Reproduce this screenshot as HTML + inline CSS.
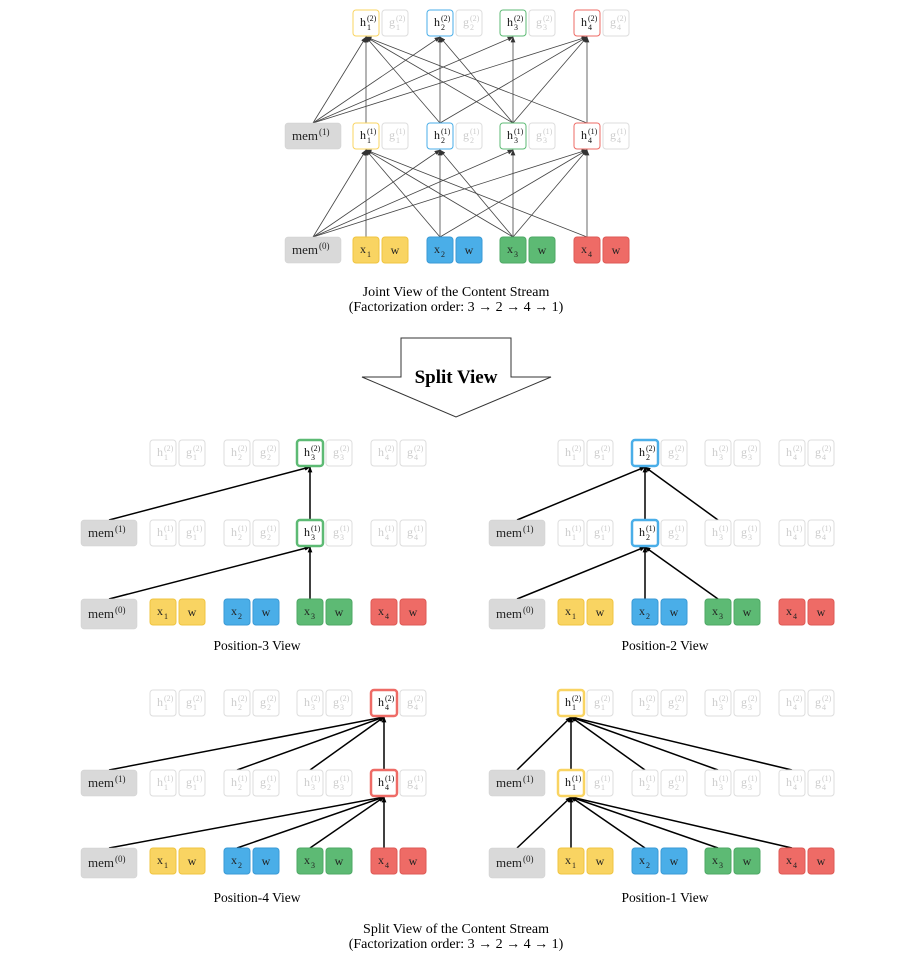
<!DOCTYPE html>
<html><head><meta charset="utf-8"><style>
html,body{margin:0;padding:0;background:#fff;}
svg{display:block;font-family:"Liberation Serif",serif;}
</style></head><body>
<svg id="s" width="900" height="960" viewBox="0 0 900 960" xmlns="http://www.w3.org/2000/svg">
<defs>
<marker id="a1" viewBox="0 0 10 10" refX="9" refY="5" markerWidth="6" markerHeight="6" orient="auto" markerUnits="userSpaceOnUse"><path d="M0,1 L10,5 L0,9 z" fill="#333"/></marker>
<marker id="a2" viewBox="0 0 10 10" refX="9" refY="5" markerWidth="6" markerHeight="6" orient="auto" markerUnits="userSpaceOnUse"><path d="M0,1 L10,5 L0,9 z" fill="#000"/></marker>
</defs>
<g id="g"></g>
<text x="456" y="296" font-size="14" text-anchor="middle">Joint View of the Content Stream</text>
<text x="456" y="311" font-size="14" text-anchor="middle">(Factorization order: 3 → 2 → 4 → 1)</text>
<path d="M401,338 L511,338 L511,377 L551,377 L456,417 L362,377 L401,377 Z" fill="#fff" stroke="#333" stroke-width="1"/>
<text x="456" y="383" font-size="19" font-weight="bold" text-anchor="middle">Split View</text>
<text x="257" y="650" font-size="13.5" text-anchor="middle">Position-3 View</text>
<text x="665" y="650" font-size="13.5" text-anchor="middle">Position-2 View</text>
<text x="257" y="902" font-size="13.5" text-anchor="middle">Position-4 View</text>
<text x="665" y="902" font-size="13.5" text-anchor="middle">Position-1 View</text>
<text x="456" y="933" font-size="14" text-anchor="middle">Split View of the Content Stream</text>
<text x="456" y="948" font-size="14" text-anchor="middle">(Factorization order: 3 → 2 → 4 → 1)</text>
</svg>
<script>
var G=document.getElementById('g'),out='';
var COL=['#f9d462','#4aaee8','#5dba74','#ee6b66'];
var DK=['#f0c440','#3a9ad6','#4ea865','#de5a55'];
var ORDER=[3,2,4,1];
function lab(cx,cy,m,sub,sup,col){
  var s='';
  if(m==='mem'){
    s+='<text x="'+(cx+5)+'" y="'+(cy+4)+'" font-size="13" text-anchor="end" fill="'+col+'">mem</text>';
    s+='<text x="'+(cx+6)+'" y="'+(cy-1)+'" font-size="9" fill="'+col+'">'+sup+'</text>';
    return s;
  }
  if(m==='w'){return '<text x="'+cx+'" y="'+(cy+4)+'" font-size="12" text-anchor="middle" fill="'+col+'">w</text>';}
  s+='<text x="'+(cx-3)+'" y="'+(cy+3)+'" font-size="12" text-anchor="middle" fill="'+col+'">'+m+'</text>';
  if(sup)s+='<text x="'+(cx+1)+'" y="'+(cy-2)+'" font-size="8" fill="'+col+'">'+sup+'</text>';
  if(sub)s+='<text x="'+(cx+1)+'" y="'+(cy+7)+'" font-size="8" fill="'+col+'">'+sub+'</text>';
  return s;
}
function rect(x,y,w,h,fill,stroke,sw){return '<rect x="'+x+'" y="'+y+'" width="'+w+'" height="'+h+'" rx="3" fill="'+fill+'" stroke="'+stroke+'" stroke-width="'+sw+'"/>';}
function line(x1,y1,x2,y2,split){
  return '<line x1="'+x1+'" y1="'+y1+'" x2="'+x2+'" y2="'+y2+'" stroke="'+(split?'#000':'#444')+'" stroke-width="'+(split?1.5:0.8)+'" marker-end="url(#'+(split?'a2':'a1')+')"/>';
}
function pred(i){var k=ORDER.indexOf(i);return ORDER.slice(0,k+1);}
function panel(hx,ys,memx,target){
  var s='',BW=26,BH=26,lines='';
  var split=target!==null;
  var targets=split?[target]:[1,2,3,4];
  targets.forEach(function(i){
    var tx=hx[i-1]+BW/2;
    for(var l=0;l<2;l++){
      var ty=ys[l]+BH, sy=ys[l+1];
      lines+=line(memx+28,sy,tx,ty+1,split);
      pred(i).forEach(function(j){
        lines+=line(hx[j-1]+BW/2,sy,tx,ty+1,split);
      });
    }
  });
  s+=rect(memx,ys[1],56,BH,'#d9d9d9','#d0d0d0',0.5)+lab(memx+28,ys[1]+BH/2,'mem','', '(1)','#222');
  s+=rect(memx,ys[2],56,split?30:BH,'#d9d9d9','#d0d0d0',0.5)+lab(memx+28,ys[2]+(split?15:BH/2),'mem','','(0)','#222');
  for(var i=1;i<=4;i++){
    var x=hx[i-1];
    for(var l=0;l<2;l++){
      var y=ys[l],sup=l==0?'(2)':'(1)';
      var hl=split?(i===target):true;
      if(hl){
        s+=rect(x,y,BW,BH,'#fff',COL[i-1],split?2.5:1)+lab(x+BW/2,y+BH/2,'h',''+i,sup,'#111');
      }else{
        s+=rect(x,y,BW,BH,'#fff','#ddd',1)+lab(x+BW/2,y+BH/2,'h',''+i,sup,'#ccc');
      }
      s+=rect(x+29,y,BW,BH,'#fff','#ddd',1)+lab(x+29+BW/2,y+BH/2,'g',''+i,sup,'#ccc');
    }
    var yb=ys[2];
    s+=rect(x,yb,BW,BH,COL[i-1],DK[i-1],1)+lab(x+BW/2,yb+BH/2,'x',''+i,'','#222');
    s+=rect(x+29,yb,BW,BH,COL[i-1],DK[i-1],1)+lab(x+29+BW/2,yb+BH/2,'w','','','#222');
  }
  return lines+s;
}
out+=panel([353,427,500,574],[10,123,237],285,null);
var L=[150,224,297,371];
function off(a,d){return a.map(function(v){return v+d;});}
out+=panel(L,[440,520,599],81,3);
out+=panel(off(L,408),[440,520,599],489,2);
out+=panel(L,[690,770,848],81,4);
out+=panel(off(L,408),[690,770,848],489,1);
G.innerHTML=out;
</script>
</body></html>
